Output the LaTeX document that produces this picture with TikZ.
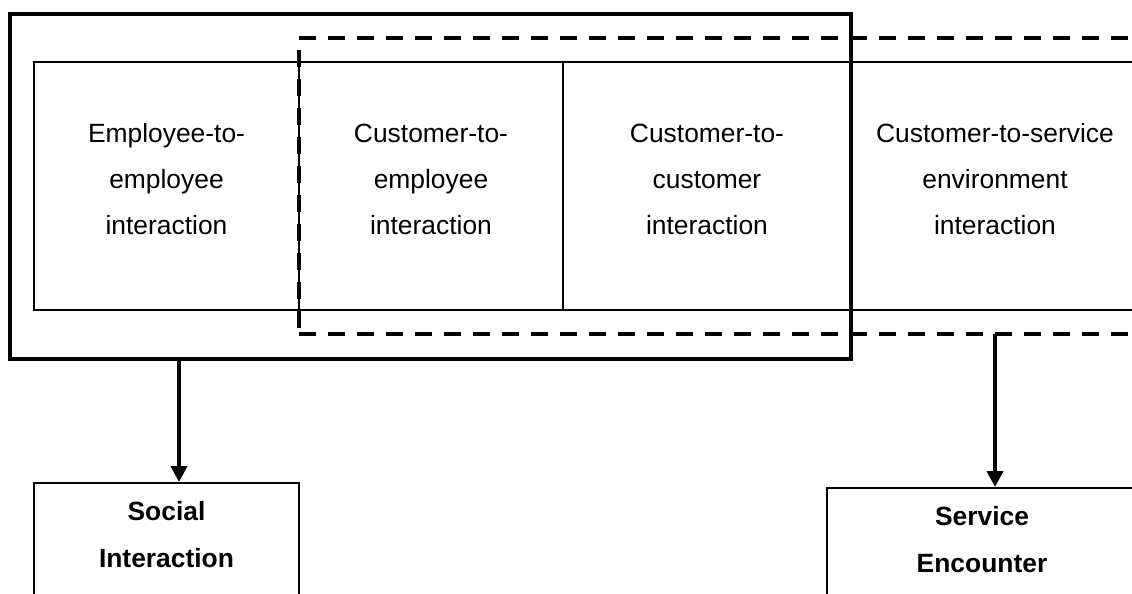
\documentclass[tikz,border=0pt]{standalone}
\usepackage{fontspec}
\setmainfont{Liberation Sans}
\usetikzlibrary{arrows.meta}
\tikzset{
    cell/.style={draw, line width=1.5pt, minimum height=186pt, inner sep=0pt, outer sep=0pt, text width=190pt, text depth=79.5pt, align=center, font=\fontsize{19.8}{34.5}\selectfont},
    solidframe/.style={draw, line width=3pt, inner sep=0pt, outer sep=0pt},
    dashframe/.style={draw, line width=3pt, dash pattern=on 12.75pt off 9pt, inner sep=0pt, outer sep=0pt},
    outcome/.style={draw, line width=1.5pt, anchor=north, align=center, inner xsep=0pt, inner ysep=13.5pt, text depth=120pt, font=\fontsize{19.8}{35.25}\selectfont\bfseries},
    flow/.style={line width=3pt, -{Triangle[length=12pt, width=12pt]}}
}
\begin{document}
\begin{tikzpicture}[x=0.75pt, y=-0.75pt]
    \useasboundingbox (0,0) rectangle (1132,593);
    \clip (0,0) rectangle (1132,593);
    % interaction cells
    \node[cell, minimum width=198.75pt] (emp) at (166.5,186) {Employee-to-\\employee\\interaction};
    \node[cell, minimum width=198pt] (custemp) at (431,186) {Customer-to-\\employee\\interaction};
    \node[cell, minimum width=216pt] (custcust) at (707,186) {Customer-to-\\customer\\interaction};
    \node[cell, minimum width=216pt] (custenv) at (995,186) {Customer-to-service\\environment\\interaction};
    % the two groupings
    \node[solidframe, minimum width=630.75pt, minimum height=258.75pt] (social frame) at (430.5,186.5) {};
    \node[dashframe, minimum width=645.75pt, minimum height=222pt] (service frame) at (729.5,186) {};
    % outcomes
    \node[outcome, minimum width=198.75pt] (social) at (166.5,482) {Social\\Interaction};
    \node[outcome, minimum width=232.5pt] (service) at (982,487) {Service\\Encounter};
    \coordinate (social arrow) at (179,0);
    \coordinate (service arrow) at (995,0);
    \draw[flow] (social frame.south -| social arrow) -- (social.north -| social arrow);
    \draw[flow] (service frame.south -| service arrow) -- (service.north -| service arrow);
\end{tikzpicture}
\end{document}
